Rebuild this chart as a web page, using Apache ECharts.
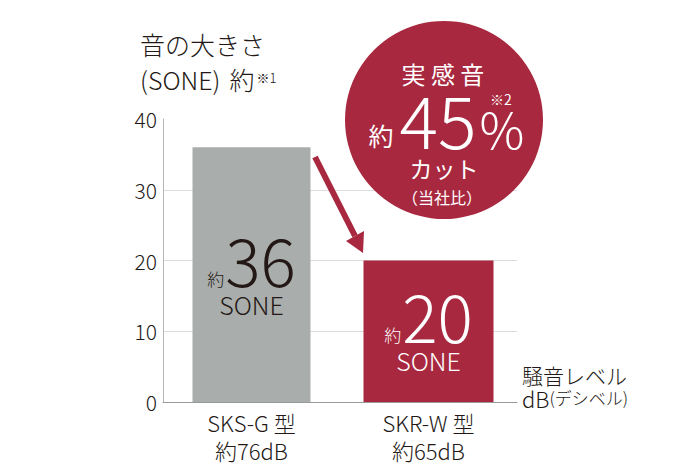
<!DOCTYPE html>
<html>
<head>
<meta charset="utf-8">
<script src="https://cdn.jsdelivr.net/npm/echarts@6/dist/echarts.min.js"></script>
<style>
html,body{margin:0;padding:0;background:#fff;}
#chart{width:690px;height:470px;}
</style>
</head>
<body>
<div id="chart"></div>
<script>
const categories = ['SKS-G 型', 'SKR-W 型'];
const dbLabels = ['約76dB', '約65dB'];
const soneValues = [36, 20];
const yMin = 0, yMax = 40, yInterval = 10;

const FONT = '"Noto Sans CJK JP", "Noto Sans", sans-serif';
const DARK = '#231815';
const RED = '#a8293f';
const GRAY = '#a9adab';

const chart = echarts.init(document.getElementById('chart'), null, {renderer: 'svg'});

function barLabel(i, color) {
  return {
    show: true,
    position: 'inside',
    formatter: '{s|約}{n|' + soneValues[i] + '}\n{u|SONE}',
    rich: {
      s: {fontSize: 17, color: color, fontFamily: FONT, fontWeight: 300, verticalAlign: 'bottom', lineHeight: 58, padding: [0, 1, 4, 0]},
      n: {fontSize: 66, color: color, fontFamily: FONT, fontWeight: 300, verticalAlign: 'bottom', lineHeight: 58},
      u: {fontSize: 25, color: color, fontFamily: FONT, fontWeight: 300, lineHeight: 26, align: 'center'}
    }
  };
}

function ctext(x, y, text, font, lh) {
  return {type: 'text', z: 6, style: {x: x, y: y, text: text, font: font + FONT, lineHeight: lh, fill: '#fff', textAlign: 'center', textVerticalAlign: 'middle'}};
}

const option = {
  animation: false,
  grid: {left: 163, right: 173, top: 119, bottom: 68},
  xAxis: [{
    type: 'category',
    data: categories,
    axisLine: {show: true, lineStyle: {color: '#9a9a9a', width: 1}},
    axisTick: {show: false},
    axisLabel: {
      margin: 6,
      formatter: function (v, i) { return '{a|' + v + '}\n{b|' + dbLabels[i] + '}'; },
      rich: {
        a: {fontSize: 22, color: DARK, fontFamily: FONT, fontWeight: 300, lineHeight: 28},
        b: {fontSize: 22, color: DARK, fontFamily: FONT, fontWeight: 300, lineHeight: 28}
      }
    }
  }, {
    type: 'category',
    data: categories,
    show: false
  }],
  yAxis: {
    type: 'value',
    min: yMin, max: yMax, interval: yInterval,
    axisLine: {show: true, lineStyle: {color: '#b5b5b5', width: 1}},
    axisTick: {show: false},
    axisLabel: {fontSize: 21, color: DARK, fontFamily: FONT, fontWeight: 300, margin: 6},
    splitLine: {show: true, lineStyle: {color: ['rgba(0,0,0,0)', '#dcdcdc', '#dcdcdc', '#dcdcdc', 'rgba(0,0,0,0)'], width: 1}}
  },
  series: [{
    type: 'bar',
    xAxisIndex: 0,
    data: [soneValues[0], '-'],
    barWidth: 118,
    itemStyle: {color: GRAY},
    label: barLabel(0, DARK),
    z: 2
  }, {
    type: 'bar',
    xAxisIndex: 1,
    data: ['-', soneValues[1]],
    barWidth: 130,
    itemStyle: {color: RED},
    label: barLabel(1, '#ffffff'),
    z: 2
  }],
  graphic: [
    {type: 'text', left: 140, top: 31, style: {
      text: '{t|音の大きさ}\n{t|(SONE)}{g|約}{s|※1}',
      rich: {
        t: {font: '300 25px ' + FONT, fill: DARK, lineHeight: 35},
        g: {font: '300 25px ' + FONT, fill: DARK, lineHeight: 35, padding: [0, 2, 0, 9]},
        s: {font: '300 13px ' + FONT, fill: DARK, lineHeight: 35, verticalAlign: 'middle', padding: [0, 0, 2, 0]}
      }
    }},
    {type: 'circle', shape: {cx: 444, cy: 120, r: 99}, style: {fill: RED}, z: 5},
    ctext(443, 73, '実 感 音', '400 24px ', 22),
    ctext(381, 135, '約', '400 25px ', 24),
    ctext(438, 117, '45', '300 72px ', 52),
    ctext(502, 127, '%', '300 50px ', 34),
    ctext(501, 99, '※2', '400 14px ', 12),
    ctext(444, 168, 'カット', '400 23px ', 21),
    ctext(442, 197, '（当社比）', '400 16px ', 16),
    {type: 'polyline', z: 6, shape: {points: [[315, 157], [355, 236]]}, style: {stroke: RED, lineWidth: 6, fill: null}},
    {type: 'polygon', z: 6, shape: {points: [[363, 253], [346, 241], [364, 231]]}, style: {fill: RED}},
    {type: 'text', left: 522, top: 364, style: {
      text: '{a|騒音レベル}\n{b|dB}{c|(デシベル)}',
      rich: {
        a: {font: '300 21px ' + FONT, fill: DARK, lineHeight: 23},
        b: {font: '300 22px ' + FONT, fill: DARK, lineHeight: 23},
        c: {font: '300 17px ' + FONT, fill: DARK, lineHeight: 23}
      }
    }}
  ]
};
chart.setOption(option);
</script>
</body>
</html>
